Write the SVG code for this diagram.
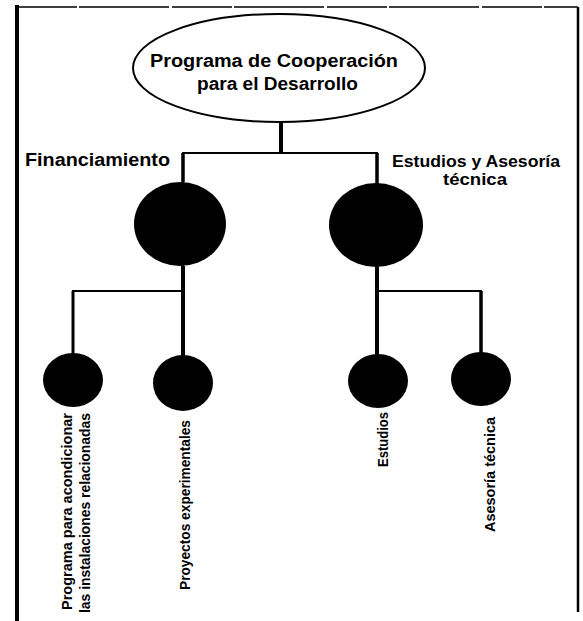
<svg xmlns="http://www.w3.org/2000/svg" width="583" height="621" viewBox="0 0 583 621">
<style>
.lbl{font-family:"Liberation Sans","DejaVu Sans",sans-serif;font-weight:bold;fill:#000}
.t{font-size:18px}
.s{font-size:16px}
.v{font-size:15px}
.ln{stroke:#000;fill:none}
.dot{fill:#000}
</style>
<rect width="583" height="621" fill="#fff"/>
<g id="frame">
<line class="ln" x1="17" y1="5" x2="17" y2="621" stroke-width="4"/>
<line class="ln" x1="17" y1="7" x2="578" y2="7" stroke-width="1.5" stroke-dasharray="60 2 90 3"/>
<line class="ln" x1="578" y1="7" x2="578" y2="612" stroke-width="2.5"/>
</g>
<g id="connectors">
<line class="ln" x1="281" y1="123" x2="281" y2="153" stroke-width="4"/>
<polyline class="ln" points="183,267 183,153 377,153 377,268" stroke-width="2"/>
<line class="ln" x1="183" y1="153" x2="183" y2="182" stroke-width="3.5"/>
<line class="ln" x1="377" y1="153" x2="377" y2="184" stroke-width="3.5"/>
<line class="ln" x1="183" y1="266" x2="183" y2="357" stroke-width="4"/>
<polyline class="ln" points="73,355 73,291 183,291" stroke-width="2"/>
<line class="ln" x1="73" y1="291" x2="73" y2="355" stroke-width="3"/>
<line class="ln" x1="377" y1="267" x2="377" y2="355" stroke-width="4"/>
<polyline class="ln" points="377,291 481,291 481,353" stroke-width="2"/>
<line class="ln" x1="481" y1="291" x2="481" y2="353" stroke-width="3.5"/>
</g>
<g id="root">
<ellipse cx="279" cy="68" rx="146" ry="54" fill="#fff" stroke="#000" stroke-width="2"/>
<text class="lbl t" x="150" y="67" textLength="248" lengthAdjust="spacingAndGlyphs">Programa de Cooperación</text>
<text class="lbl t" x="197" y="90" textLength="161" lengthAdjust="spacingAndGlyphs">para el Desarrollo</text>
</g>
<g id="financiamiento">
<ellipse class="dot" cx="180" cy="224" rx="46" ry="42"/>
<text class="lbl t" x="25" y="166" textLength="145" lengthAdjust="spacingAndGlyphs">Financiamiento</text>
</g>
<g id="estudios-asesoria">
<ellipse class="dot" cx="376" cy="225" rx="47" ry="42"/>
<text class="lbl s" x="392" y="167" textLength="168" lengthAdjust="spacingAndGlyphs">Estudios y Asesoría</text>
<text class="lbl s" x="443" y="185" textLength="64" lengthAdjust="spacingAndGlyphs">técnica</text>
</g>
<g id="programa-acondicionar">
<ellipse class="dot" cx="73" cy="380" rx="30" ry="27"/>
<text class="lbl v" transform="translate(72,413) rotate(-90)" text-anchor="end" textLength="197" lengthAdjust="spacingAndGlyphs">Programa para acondicionar</text>
<text class="lbl v" transform="translate(90,413) rotate(-90)" text-anchor="end" textLength="200" lengthAdjust="spacingAndGlyphs">las instalaciones relacionadas</text>
</g>
<g id="proyectos">
<ellipse class="dot" cx="183" cy="383" rx="30" ry="28"/>
<text class="lbl v" transform="translate(190,420) rotate(-90)" text-anchor="end" textLength="170" lengthAdjust="spacingAndGlyphs">Proyectos experimentales</text>
</g>
<g id="estudios">
<ellipse class="dot" cx="378" cy="381" rx="30" ry="27"/>
<text class="lbl v" transform="translate(388,412) rotate(-90)" text-anchor="end" textLength="55" lengthAdjust="spacingAndGlyphs">Estudios</text>
</g>
<g id="asesoria-tecnica">
<ellipse class="dot" cx="481" cy="379" rx="30" ry="27"/>
<text class="lbl v" transform="translate(495,417) rotate(-90)" text-anchor="end" textLength="115" lengthAdjust="spacingAndGlyphs">Asesoría técnica</text>
</g>
</svg>
